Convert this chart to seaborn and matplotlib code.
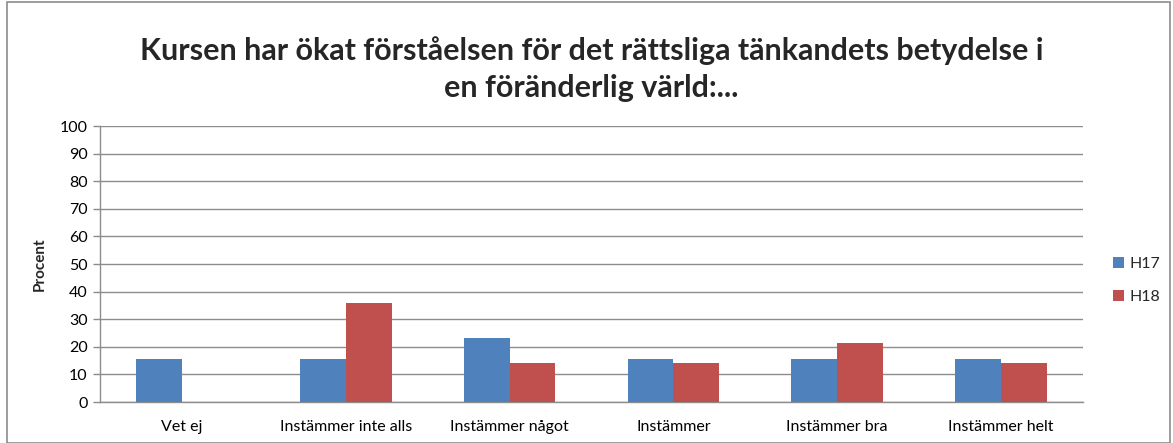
import matplotlib
matplotlib.use("Agg")
import matplotlib.pyplot as plt
from matplotlib.patches import Rectangle
import numpy as np
import pandas as pd
import seaborn as sns

categories = ["Vet ej", "Instämmer inte alls", "Instämmer något",
              "Instämmer", "Instämmer bra", "Instämmer helt"]
h17 = [15.4, 15.4, 23.1, 15.4, 15.4, 15.4]
h18 = [0.0, 35.7, 14.3, 14.3, 21.4, 14.3]
series = ["H17", "H18"]
colors = ["#4F81BD", "#C0504D"]
yticks = list(range(0, 101, 10))

df = pd.DataFrame({
    "Kategori": categories * 2,
    "Procent": h17 + h18,
    "Termin": [series[0]] * len(categories) + [series[1]] * len(categories),
})

sns.set_theme(style="white")
plt.rcParams["font.family"] = ["Lato", "DejaVu Sans"]

fig = plt.figure(figsize=(11.73, 4.43), dpi=100)
ax = fig.add_axes([100 / 1173, 1 - 402 / 443, (1083 - 100) / 1173, (402 - 126) / 443])

sns.barplot(data=df, x="Kategori", y="Procent", hue="Termin", order=categories,
            hue_order=series, palette=colors, width=0.56, gap=0, saturation=1,
            edgecolor="none", ax=ax, zorder=3)

ax.set_xlim(-0.5, len(categories) - 0.5)
ax.set_ylim(0, 100)
ax.set_yticks(yticks)
ax.set_yticklabels([str(t) for t in yticks], fontsize=11.5, color="black")
ax.yaxis.grid(True, color="#8c8c8c", linewidth=1, zorder=0)
ax.set_axisbelow(True)

ax.set_xticks(range(len(categories)))
ax.set_xticklabels(categories, fontsize=11.5, color="black")
ax.set_xticks(np.arange(-0.5, len(categories), 1), minor=True)
ax.tick_params(axis="x", which="major", length=0, pad=13)
ax.tick_params(axis="x", which="minor", length=5, color="#8c8c8c", width=1, direction="out")
ax.tick_params(axis="y", length=5, color="#8c8c8c", width=1, direction="out", left=True, pad=4)

for side in ["top", "right"]:
    ax.spines[side].set_visible(False)
for side in ["left", "bottom"]:
    ax.spines[side].set_color("#8c8c8c")
    ax.spines[side].set_linewidth(1)

ax.set_xlabel("")
ax.set_ylabel("Procent", fontsize=11, fontweight="bold", labelpad=9)

ax.set_title("Kursen har ökat förståelsen för det rättsliga tänkandets betydelse i\n"
             "en föränderlig värld:...", fontsize=22, fontweight="bold",
             linespacing=1.4, pad=21)

handles, labels = ax.get_legend_handles_labels()
ax.legend(handles, labels, loc="center left", bbox_to_anchor=(1.016, 0.44),
          frameon=False, fontsize=11.5, handlelength=0.7, handleheight=0.7,
          handletextpad=0.35, labelspacing=1.2)

fig.patches.append(Rectangle((7 / 1173, 0), 1163 / 1173, 441 / 443, transform=fig.transFigure,
                             fill=False, edgecolor="#8c8c8c", linewidth=1.2))

fig.savefig("out.png", dpi=100, facecolor="white")
